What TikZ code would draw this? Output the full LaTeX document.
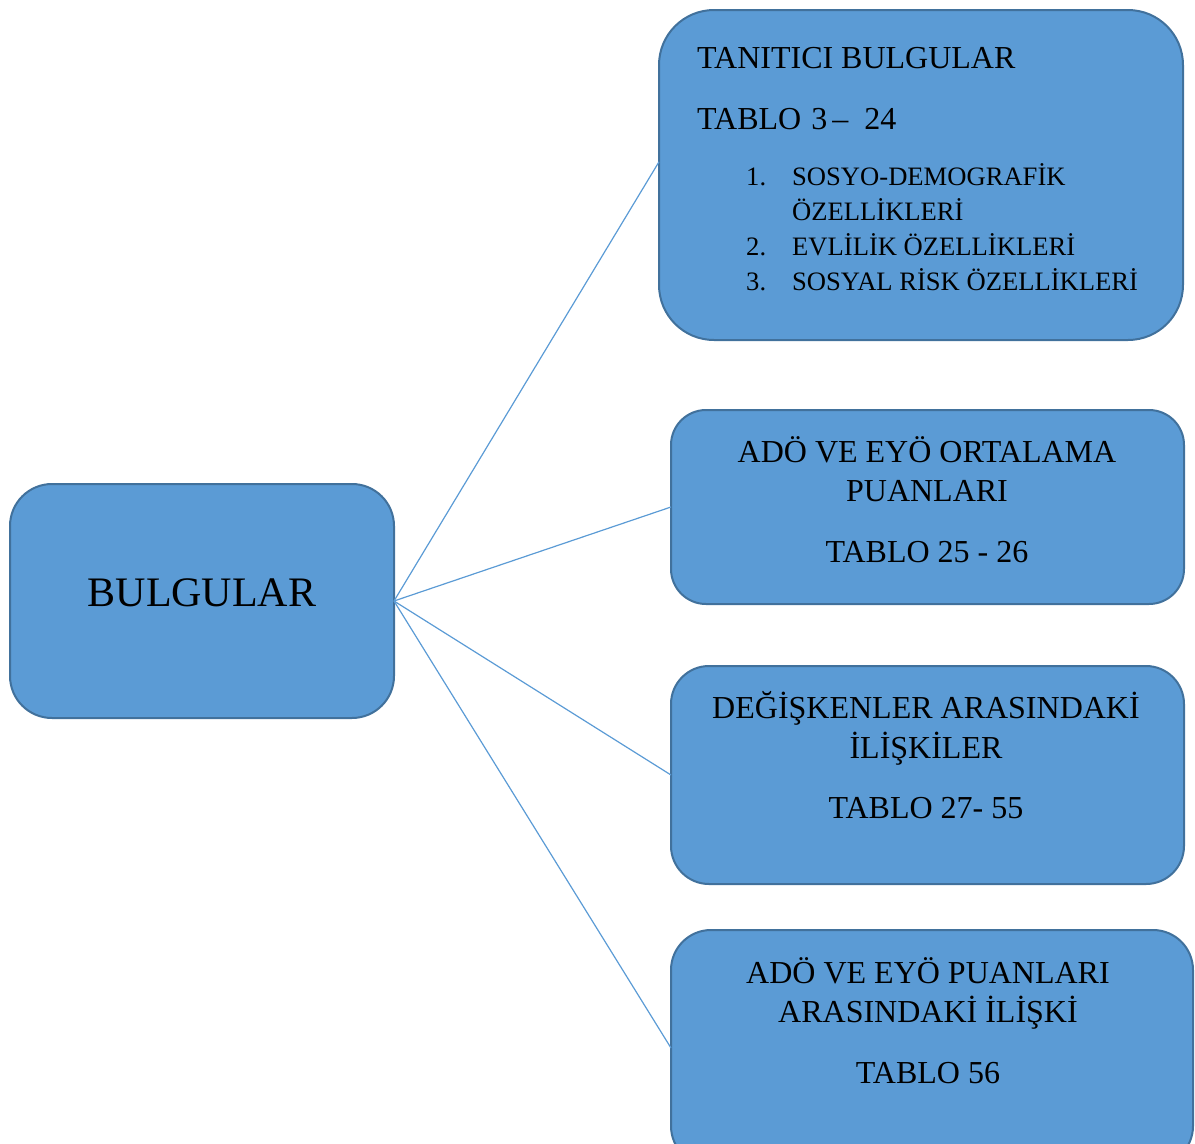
\documentclass[tikz,border=0pt]{standalone}
\usepackage{fontspec}
\setmainfont{Liberation Serif}
\usetikzlibrary{calc}
\definecolor{boxfill}{HTML}{5B9BD5}
\definecolor{boxedge}{HTML}{41719C}
\definecolor{linkc}{HTML}{5B9BD5}
\tikzset{
  box/.style={draw=boxedge, fill=boxfill, line width=2pt, inner sep=0pt, outer sep=0pt, rectangle},
  big/.style={font=\fontsize{32}{38}\selectfont, inner sep=0pt, anchor=base},
  bigl/.style={font=\fontsize{32}{38}\selectfont, inner sep=0pt, anchor=base west},
  small/.style={font=\fontsize{26.6}{30}\selectfont, inner sep=0pt, anchor=base west},
  link/.style={draw=linkc, line width=1.2pt},
}
\begin{document}
\begin{tikzpicture}[x=1pt,y=-1pt]
\useasboundingbox (0,0) rectangle (1195,1144);
% boxes
\node[box, rounded corners=42pt, minimum width=384pt, minimum height=234pt] (b0) at (202,601) {};
\node[box, rounded corners=55pt, minimum width=524pt, minimum height=330pt] (b1) at (921,175) {};
\node[box, rounded corners=35pt, minimum width=513pt, minimum height=194pt] (b2) at (927.5,507) {};
\node[box, rounded corners=38pt, minimum width=513pt, minimum height=218pt] (b3) at (927.5,775) {};
\node[box, rounded corners=40pt, minimum width=522pt, minimum height=236pt] (b4) at (932,1048) {};
% connectors
\draw[link] (b0.east) -- ($(b1.north west)!0.46!(b1.south west)$);
\draw[link] (b0.east) -- (b2.west);
\draw[link] (b0.east) -- (b3.west);
\draw[link] (b0.east) -- (b4.west);
% texts
\node[font=\fontsize{42}{48}\selectfont, inner sep=0pt, anchor=base] (t0) at (202,606) {BULGULAR};
\node[bigl] (t1a) at (697,68) {TANITICI BULGULAR};
\node[bigl] (t1b) at (697,129) {TABLO\hspace{10pt}3\hspace{5pt}–\hspace{16pt}24};
\node[small] (n1) at (746,185) {1.};
\node[small] (l1) at (792,185) {SOSYO-DEMOGRAFİK};
\node[small] (l1b) at (792,220) {ÖZELLİKLERİ};
\node[small] (n2) at (746,255) {2.};
\node[small] (l2) at (792,255) {EVLİLİK ÖZELLİKLERİ};
\node[small] (n3) at (746,290) {3.};
\node[small] (l3) at (792,290) {SOSYAL RİSK ÖZELLİKLERİ};
\node[big] (t2a) at (927,462) {ADÖ VE EYÖ ORTALAMA};
\node[big] (t2b) at (927,501) {PUANLARI};
\node[big] (t2c) at (927,562) {TABLO 25 - 26};
\node[big] (t3a) at (926,718) {DEĞİŞKENLER ARASINDAKİ};
\node[big] (t3b) at (926,758) {İLİŞKİLER};
\node[big] (t3c) at (926,818) {TABLO 27- 55};
\node[big] (t4a) at (928,983) {ADÖ VE EYÖ PUANLARI};
\node[big] (t4b) at (928,1022) {ARASINDAKİ İLİŞKİ};
\node[big] (t4c) at (928,1083) {TABLO 56};
\end{tikzpicture}
\end{document}
